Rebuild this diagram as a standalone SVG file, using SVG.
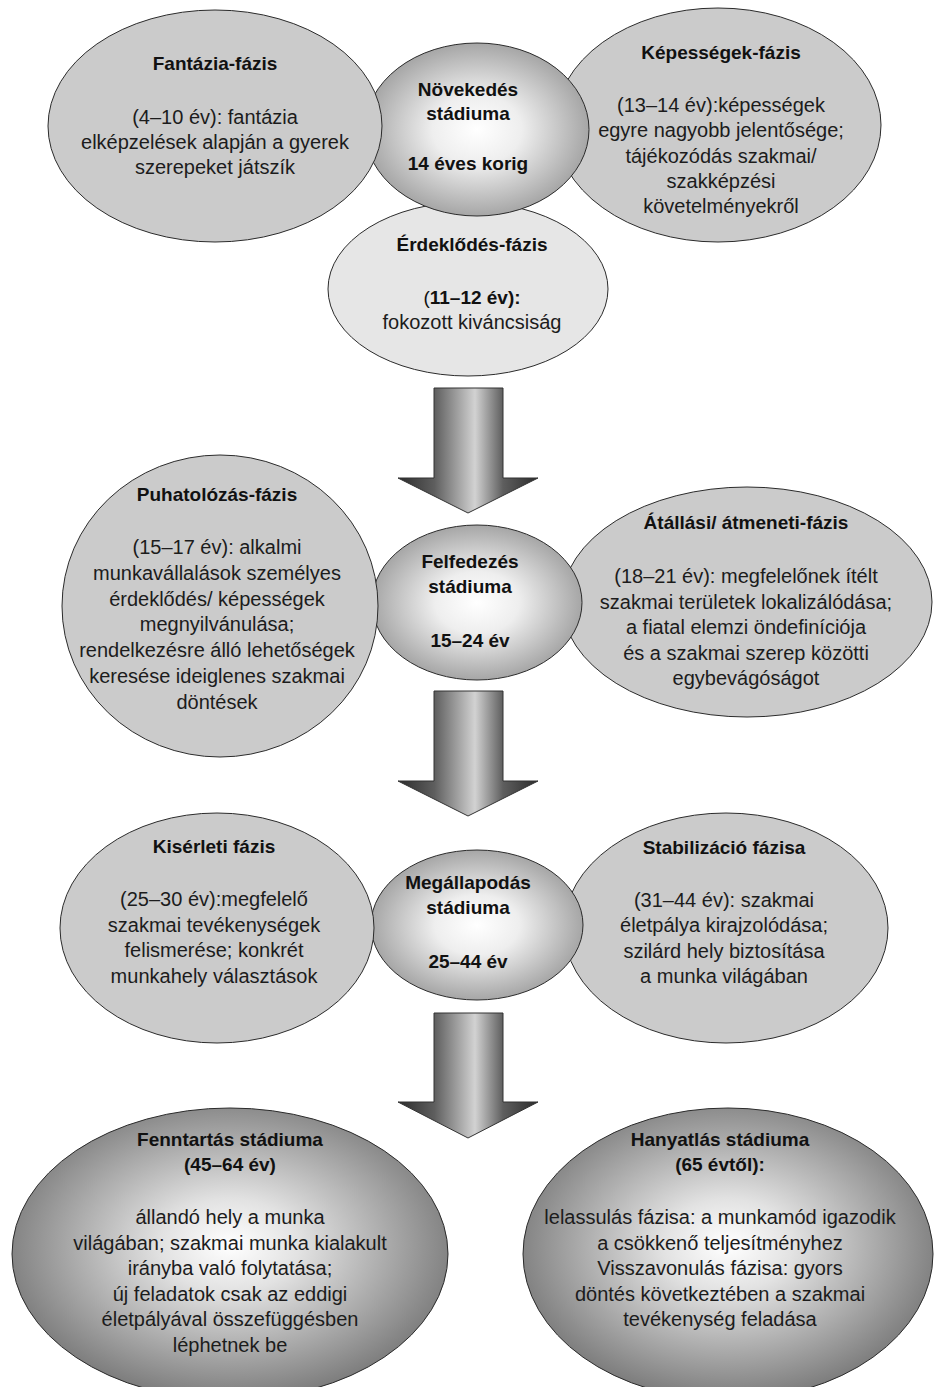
<svg xmlns="http://www.w3.org/2000/svg" width="934" height="1387" viewBox="0 0 934 1387">
<defs>
<radialGradient id="gCenter" cx="0.5" cy="0.5" r="0.5">
<stop offset="0" stop-color="#ffffff"/>
<stop offset="0.4" stop-color="#eeeeee"/>
<stop offset="1" stop-color="#a6a6a6"/>
</radialGradient>
<radialGradient id="gBig" cx="0.5" cy="0.47" r="0.53">
<stop offset="0" stop-color="#ffffff"/>
<stop offset="0.3" stop-color="#e2e2e2"/>
<stop offset="1" stop-color="#7c7c7c"/>
</radialGradient>
<linearGradient id="gArrow" gradientUnits="userSpaceOnUse" x1="398" y1="0" x2="538" y2="0">
<stop offset="0" stop-color="#2c2c2c"/>
<stop offset="0.26" stop-color="#5e5e5e"/>
<stop offset="0.55" stop-color="#d2d2d2"/>
<stop offset="0.75" stop-color="#5e5e5e"/>
<stop offset="1" stop-color="#2c2c2c"/>
</linearGradient>
</defs>
<style>
.side{fill:#cbcbcb;stroke:#2b2b2b;stroke-width:1}
.light{fill:#e6e6e6;stroke:#2b2b2b;stroke-width:1}
.center{fill:url(#gCenter);stroke:#2b2b2b;stroke-width:1}
.big{fill:url(#gBig);stroke:#2b2b2b;stroke-width:1}
.arrow{fill:url(#gArrow);stroke:#333333;stroke-width:1}
text{font-family:"Liberation Sans",Arial,sans-serif;text-anchor:middle;fill:#1c1c1c}
.t{font-size:19px;font-weight:bold;fill:#111111}
.b{font-size:20px}
.n{font-weight:normal}
</style>

<g id="connectors">
<path class="arrow" d="M434,388 H503 V478 H538 L468,513 L398,478 H434 Z"/>
<path class="arrow" d="M434,691 H503 V781 H538 L468,816 L398,781 H434 Z"/>
<path class="arrow" d="M434,1013 H503 V1102 H538 L468,1138 L398,1102 H434 Z"/>
</g>

<g id="erdeklodes">
<ellipse class="light" cx="468" cy="289" rx="140" ry="87"/>
<text class="t" x="472" y="251">Érdeklődés-fázis</text>
<text class="t" x="472" y="304"><tspan class="n">(</tspan>11–12 év):</text>
<text class="b" x="472" y="329">fokozott kiváncsiság</text>
</g>

<g id="kepessegek">
<ellipse class="side" cx="718" cy="125" rx="163" ry="117"/>
<text class="t" x="721" y="59">Képességek-fázis</text>
<text class="b" x="721" y="112">(13–14 év):képességek</text>
<text class="b" x="721" y="137">egyre nagyobb jelentősége;</text>
<text class="b" x="721" y="163">tájékozódás szakmai/</text>
<text class="b" x="721" y="188">szakképzési</text>
<text class="b" x="721" y="213">követelményekről</text>
</g>

<g id="novekedes">
<ellipse class="center" cx="477" cy="129.5" rx="112" ry="86.5"/>
<text class="t" x="468" y="96">Növekedés</text>
<text class="t" x="468" y="120">stádiuma</text>
<text class="t" x="468" y="170">14 éves korig</text>
</g>

<g id="fantazia">
<ellipse class="side" cx="215" cy="126" rx="167" ry="116"/>
<text class="t" x="215" y="70">Fantázia-fázis</text>
<text class="b" x="215" y="124">(4–10 év): fantázia</text>
<text class="b" x="215" y="149">elképzelések alapján a gyerek</text>
<text class="b" x="215" y="174">szerepeket játszík</text>
</g>

<g id="atallasi">
<ellipse class="side" cx="747" cy="602" rx="185" ry="115"/>
<text class="t" x="746" y="529">Átállási/ átmeneti-fázis</text>
<text class="b" x="746" y="583">(18–21 év): megfelelőnek ítélt</text>
<text class="b" x="746" y="609">szakmai területek lokalizálódása;</text>
<text class="b" x="746" y="634">a fiatal elemzi öndefiníciója</text>
<text class="b" x="746" y="660">és a szakmai szerep közötti</text>
<text class="b" x="746" y="685">egybevágóságot</text>
</g>

<g id="felfedezes">
<ellipse class="center" cx="477" cy="602.5" rx="105" ry="77.5"/>
<text class="t" x="470" y="568">Felfedezés</text>
<text class="t" x="470" y="593">stádiuma</text>
<text class="t" x="470" y="647">15–24 év</text>
</g>

<g id="puhatolozas">
<ellipse class="side" cx="220" cy="606" rx="158" ry="151"/>
<text class="t" x="217" y="501">Puhatolózás-fázis</text>
<text class="b" x="217" y="554">(15–17 év): alkalmi</text>
<text class="b" x="217" y="580">munkavállalások személyes</text>
<text class="b" x="217" y="606">érdeklődés/ képességek</text>
<text class="b" x="217" y="631">megnyilvánulása;</text>
<text class="b" x="217" y="657">rendelkezésre álló lehetőségek</text>
<text class="b" x="217" y="683">keresése ideiglenes szakmai</text>
<text class="b" x="217" y="709">döntések</text>
</g>

<g id="stabilizacio">
<ellipse class="side" cx="726" cy="928" rx="162" ry="115"/>
<text class="t" x="724" y="854">Stabilizáció fázisa</text>
<text class="b" x="724" y="907">(31–44 év): szakmai</text>
<text class="b" x="724" y="932">életpálya kirajzolódása;</text>
<text class="b" x="724" y="958">szilárd hely biztosítása</text>
<text class="b" x="724" y="983">a munka világában</text>
</g>

<g id="megallapodas">
<ellipse class="center" cx="477" cy="925" rx="106" ry="75"/>
<text class="t" x="468" y="889">Megállapodás</text>
<text class="t" x="468" y="914">stádiuma</text>
<text class="t" x="468" y="968">25–44 év</text>
</g>

<g id="kiserleti">
<ellipse class="side" cx="217" cy="928" rx="157" ry="115"/>
<text class="t" x="214" y="853">Kisérleti fázis</text>
<text class="b" x="214" y="906">(25–30 év):megfelelő</text>
<text class="b" x="214" y="932">szakmai tevékenységek</text>
<text class="b" x="214" y="957">felismerése; konkrét</text>
<text class="b" x="214" y="983">munkahely választások</text>
</g>

<g id="fenntartas">
<ellipse class="big" cx="230" cy="1254" rx="218" ry="146"/>
<text class="t" x="230" y="1146">Fenntartás stádiuma</text>
<text class="t" x="230" y="1171">(45–64 év)</text>
<text class="b" x="230" y="1224">állandó hely a munka</text>
<text class="b" x="230" y="1250">világában; szakmai munka kialakult</text>
<text class="b" x="230" y="1275">irányba való folytatása;</text>
<text class="b" x="230" y="1301">új feladatok csak az eddigi</text>
<text class="b" x="230" y="1326">életpályával összefüggésben</text>
<text class="b" x="230" y="1352">léphetnek be</text>
</g>

<g id="hanyatlas">
<ellipse class="big" cx="728" cy="1254" rx="205" ry="146"/>
<text class="t" x="720" y="1146">Hanyatlás stádiuma</text>
<text class="t" x="720" y="1171">(65 évtől):</text>
<text class="b" x="720" y="1224">lelassulás fázisa: a munkamód igazodik</text>
<text class="b" x="720" y="1250">a csökkenő teljesítményhez</text>
<text class="b" x="720" y="1275">Visszavonulás fázisa: gyors</text>
<text class="b" x="720" y="1301">döntés következtében a szakmai</text>
<text class="b" x="720" y="1326">tevékenység feladása</text>
</g>
</svg>
